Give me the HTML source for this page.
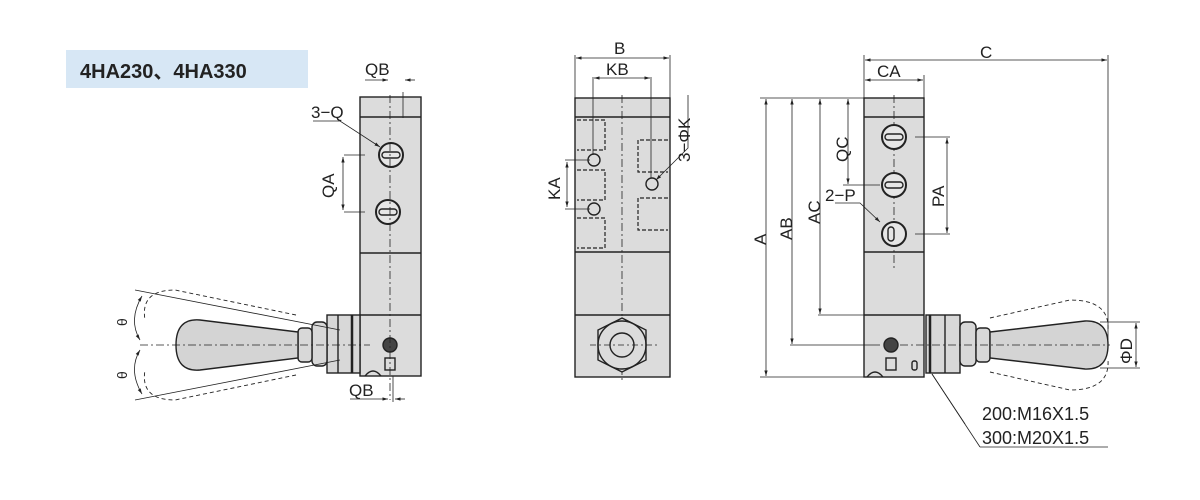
<!DOCTYPE html>
<html><head><meta charset="utf-8"><style>
html,body{margin:0;padding:0;background:#fff;width:1200px;height:500px;overflow:hidden}
svg{display:block}
text{font-family:"Liberation Sans","Noto Sans CJK SC",sans-serif;fill:#222}
</style></head><body>
<svg width="1200" height="500" viewBox="0 0 1200 500" xmlns="http://www.w3.org/2000/svg">
<defs>
<marker id="ar" viewBox="0 0 10 10" refX="10" refY="5" markerWidth="7" markerHeight="7" orient="auto-start-reverse"><path d="M0,2 L10,5 L0,8 z" fill="#222"/></marker>
</defs>
<rect x="66" y="50" width="242" height="38" fill="#d7e7f5"/>
<text x="80" y="78" font-size="20" font-weight="bold" fill="#111">4HA230、4HA330</text>

<g stroke="#222" stroke-width="1.4" fill="none">
<!-- LEFT VIEW -->
<rect x="360" y="97" width="61" height="279" fill="#dcdcdc"/>
<line x1="360" y1="117" x2="421" y2="117"/>
<line x1="360" y1="253" x2="421" y2="253"/>
<line x1="360" y1="315" x2="421" y2="315"/>
<circle cx="391" cy="155" r="12" fill="#e6e6e6" stroke-width="2"/>
<rect x="382" y="152" width="18" height="6" rx="3"/>
<circle cx="388" cy="212" r="12" fill="#e6e6e6" stroke-width="2"/>
<rect x="379" y="209" width="18" height="6" rx="3"/>
<circle cx="390" cy="345" r="7" fill="#444"/>
<rect x="385" y="358" width="10" height="12"/>
<path d="M365,376 q8,-10 16,0" />
<line x1="390" y1="95" x2="390" y2="400" stroke-dasharray="8,3,2,3" stroke-width="0.8"/>
<line x1="403" y1="92" x2="403" y2="118" stroke-width="0.8"/>
<line x1="365" y1="80" x2="388" y2="80" marker-end="url(#ar)" stroke-width="0.8"/>
<line x1="415" y1="80" x2="405" y2="80" marker-end="url(#ar)" stroke-width="0.8"/>
<line x1="344" y1="155" x2="365" y2="155" stroke-width="0.8"/><line x1="344" y1="212" x2="365" y2="212" stroke-width="0.8"/>
<line x1="343" y1="157" x2="343" y2="210" marker-start="url(#ar)" marker-end="url(#ar)" stroke-width="0.8"/>
<polyline points="313,121 340,121 380,147" stroke-width="0.8" marker-end="url(#ar)"/>
<line x1="350" y1="399" x2="388" y2="399" marker-end="url(#ar)" stroke-width="0.8"/>
<line x1="405" y1="399" x2="395" y2="399" marker-end="url(#ar)" stroke-width="0.8"/>
<line x1="393" y1="376" x2="393" y2="402" stroke-width="0.8"/>
<!-- left handle -->
<rect x="327" y="315" width="33" height="58" fill="#d8d8d8"/>
<line x1="338" y1="315" x2="338" y2="373"/><line x1="352" y1="315" x2="352" y2="373" stroke-width="2.5"/>
<rect x="312" y="322" width="15" height="44" rx="5" fill="#d8d8d8"/>
<rect x="298" y="328" width="14" height="34" rx="4" fill="#d8d8d8"/>
<path d="M298,332 L200,320 Q176,318 176,345 Q176,372 200,370 L298,358 z" fill="#d4d4d4"/>
<path d="M296,315 L175,290 Q140,290 145,320" stroke-dasharray="4,3" stroke-width="0.9"/>
<path d="M296,375 L175,400 Q140,400 145,370" stroke-dasharray="4,3" stroke-width="0.9"/>
<line x1="135" y1="290" x2="340" y2="330" stroke-width="0.8"/>
<line x1="135" y1="400" x2="340" y2="360" stroke-width="0.8"/>
<line x1="140" y1="345" x2="370" y2="345" stroke-dasharray="8,3,2,3" stroke-width="0.8"/>
<path d="M142,296 Q128,320 140,340" stroke-width="0.8" marker-start="url(#ar)" marker-end="url(#ar)"/>
<path d="M140,350 Q128,370 142,394" stroke-width="0.8" marker-start="url(#ar)" marker-end="url(#ar)"/>

<!-- MIDDLE VIEW -->
<rect x="575" y="98" width="95" height="279" fill="#dcdcdc"/>
<line x1="575" y1="117" x2="670" y2="117"/>
<line x1="575" y1="252" x2="670" y2="252"/>
<line x1="575" y1="315" x2="670" y2="315"/>
<line x1="622" y1="95" x2="622" y2="380" stroke-dasharray="8,3,2,3" stroke-width="0.8"/>
<g stroke-dasharray="4,2" stroke-width="1.2">
<path d="M577,120 h28 v30 h-28"/><path d="M577,170 h28 v30 h-28"/><path d="M577,218 h28 v30 h-28"/>
<path d="M668,140 h-30 v32 h30"/><path d="M668,198 h-30 v32 h30"/>
</g>
<polygon points="622,318 646,330 646,360 622,372 598,360 598,330" fill="#dcdcdc"/>
<circle cx="622" cy="345" r="24"/><circle cx="622" cy="345" r="12"/>
<line x1="590" y1="345" x2="660" y2="345" stroke-dasharray="6,3,2,3" stroke-width="0.8"/>
<circle cx="594" cy="160" r="6"/><circle cx="594" cy="209" r="6"/><circle cx="652" cy="184" r="6"/>
<line x1="575" y1="55" x2="575" y2="98" stroke-width="0.8"/><line x1="670" y1="55" x2="670" y2="98" stroke-width="0.8"/>
<line x1="576" y1="58" x2="669" y2="58" marker-start="url(#ar)" marker-end="url(#ar)" stroke-width="0.8"/>
<line x1="593" y1="77" x2="593" y2="155" stroke-width="0.8"/><line x1="651" y1="77" x2="651" y2="178" stroke-width="0.8"/>
<line x1="594" y1="78" x2="650" y2="78" marker-start="url(#ar)" marker-end="url(#ar)" stroke-width="0.8"/>
<line x1="565" y1="160" x2="590" y2="160" stroke-width="0.8"/><line x1="565" y1="209" x2="590" y2="209" stroke-width="0.8"/>
<line x1="567" y1="162" x2="567" y2="207" marker-start="url(#ar)" marker-end="url(#ar)" stroke-width="0.8"/>
<polyline points="688,95 688,148 656,180" stroke-width="0.8" marker-end="url(#ar)"/>

<!-- RIGHT VIEW -->
<rect x="864" y="98" width="60" height="279" fill="#dcdcdc"/>
<line x1="864" y1="117" x2="924" y2="117"/>
<line x1="864" y1="252" x2="924" y2="252"/>
<line x1="864" y1="315" x2="924" y2="315"/>
<line x1="894" y1="95" x2="894" y2="270" stroke-dasharray="8,3,2,3" stroke-width="0.8"/>
<circle cx="894" cy="137" r="12" fill="#e6e6e6" stroke-width="2"/><rect x="885" y="134" width="18" height="6" rx="3"/>
<circle cx="894" cy="185" r="12" fill="#e6e6e6" stroke-width="2"/><rect x="885" y="182" width="18" height="6" rx="3"/>
<circle cx="894" cy="234" r="12" fill="#e6e6e6" stroke-width="2"/><rect x="888" y="227" width="6" height="14" rx="3"/>
<circle cx="891" cy="345" r="7" fill="#444"/>
<rect x="886" y="358" width="10" height="12"/><rect x="912" y="361" width="5" height="9" rx="2"/>
<path d="M867,377 q8,-10 16,0"/>
<!-- right handle -->
<rect x="926" y="315" width="34" height="58" fill="#d8d8d8"/>
<line x1="930" y1="315" x2="930" y2="373" stroke-width="2.5"/><line x1="945" y1="315" x2="945" y2="373"/>
<rect x="960" y="322" width="16" height="44" rx="5" fill="#d8d8d8"/>
<rect x="976" y="328" width="14" height="34" rx="4" fill="#d8d8d8"/>
<path d="M990,332 L1085,321 Q1108,320 1108,345 Q1108,370 1085,369 L990,358 z" fill="#d4d4d4"/>
<path d="M990,318 L1070,300 Q1110,300 1108,330" stroke-dasharray="4,3" stroke-width="0.9"/>
<path d="M990,372 L1070,390 Q1110,390 1108,360" stroke-dasharray="4,3" stroke-width="0.9"/>
<line x1="900" y1="345" x2="1110" y2="345" stroke-dasharray="8,3,2,3" stroke-width="0.8"/>
<!-- dims -->
<line x1="864" y1="55" x2="864" y2="98" stroke-width="0.8"/>
<line x1="865" y1="60" x2="1107" y2="60" marker-start="url(#ar)" marker-end="url(#ar)" stroke-width="0.8"/>
<line x1="1108" y1="55" x2="1108" y2="340" stroke-width="0.8"/>
<line x1="924" y1="75" x2="924" y2="98" stroke-width="0.8"/>
<line x1="865" y1="80" x2="923" y2="80" marker-start="url(#ar)" marker-end="url(#ar)" stroke-width="0.8"/>
<line x1="760" y1="98" x2="864" y2="98" stroke-width="0.8"/>
<line x1="760" y1="377" x2="864" y2="377" stroke-width="0.8"/>
<line x1="766" y1="99" x2="766" y2="376" marker-start="url(#ar)" marker-end="url(#ar)" stroke-width="0.8"/>
<line x1="790" y1="345" x2="880" y2="345" stroke-width="0.8"/>
<line x1="792" y1="99" x2="792" y2="344" marker-start="url(#ar)" marker-end="url(#ar)" stroke-width="0.8"/>
<line x1="818" y1="315" x2="864" y2="315" stroke-width="0.8"/>
<line x1="820" y1="99" x2="820" y2="314" marker-start="url(#ar)" marker-end="url(#ar)" stroke-width="0.8"/>
<line x1="843" y1="185" x2="880" y2="185" stroke-width="0.8"/>
<line x1="848" y1="99" x2="848" y2="184" marker-start="url(#ar)" marker-end="url(#ar)" stroke-width="0.8"/>
<line x1="915" y1="137" x2="950" y2="137" stroke-width="0.8"/><line x1="915" y1="234" x2="950" y2="234" stroke-width="0.8"/>
<line x1="947" y1="138" x2="947" y2="233" marker-start="url(#ar)" marker-end="url(#ar)" stroke-width="0.8"/>
<polyline points="835,203 860,203 880,222" stroke-width="0.8" marker-end="url(#ar)"/>
<line x1="1100" y1="322" x2="1140" y2="322" stroke-width="0.8"/><line x1="1100" y1="368" x2="1140" y2="368" stroke-width="0.8"/>
<line x1="1136" y1="323" x2="1136" y2="367" marker-start="url(#ar)" marker-end="url(#ar)" stroke-width="0.8"/>
<line x1="932" y1="374" x2="980" y2="447" stroke-width="0.8"/>
<line x1="980" y1="447" x2="1108" y2="447" stroke-width="0.8"/>
<line x1="932" y1="374" x2="965" y2="424" stroke-width="0.8"/>
</g>

<g font-size="17">
<text x="365" y="75">QB</text>
<text x="311" y="118">3−Q</text>
<text x="349" y="396">QB</text>
<text transform="translate(334,198) rotate(-90)">QA</text>
<text x="116" y="325" font-size="14" transform="rotate(-90 122 320)">θ</text>
<text x="116" y="378" font-size="14" transform="rotate(-90 122 373)">θ</text>
<text x="614" y="54">B</text>
<text x="606" y="75">KB</text>
<text transform="translate(560,200) rotate(-90)">KA</text>
<text transform="translate(690,162) rotate(-90)">3−ΦK</text>
<text x="980" y="58">C</text>
<text x="877" y="77">CA</text>
<text transform="translate(766,245) rotate(-90)">A</text>
<text transform="translate(792,240) rotate(-90)">AB</text>
<text transform="translate(820,224) rotate(-90)">AC</text>
<text transform="translate(848,162) rotate(-90)">QC</text>
<text transform="translate(944,207) rotate(-90)">PA</text>
<text x="825" y="201">2−P</text>
<text transform="translate(1132,364) rotate(-90)">ΦD</text>
<text x="982" y="420" font-size="18">200:M16X1.5</text>
<text x="982" y="444" font-size="18">300:M20X1.5</text>
</g>
</svg>
</body></html>
